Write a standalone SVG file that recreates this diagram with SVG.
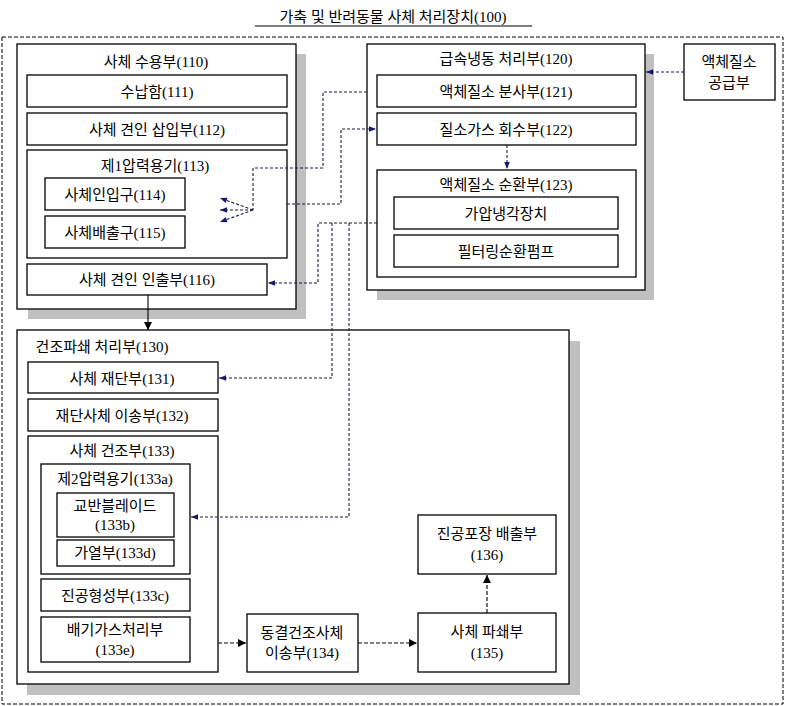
<svg xmlns="http://www.w3.org/2000/svg" width="785" height="706" viewBox="0 0 785 706">
<defs>
<style>
.b{fill:#fff;stroke:#000;stroke-width:1.3}
.s{fill:#c0c0c0}
.t{font-family:"Liberation Serif","Noto Sans CJK KR",serif;font-size:15px;text-anchor:middle;fill:#000}
.d{fill:none;stroke:#1a1a40;stroke-width:1.1;stroke-dasharray:3,2}
.k{fill:none;stroke:#000;stroke-width:1.1;stroke-dasharray:4,2}
</style>
<marker id="a" viewBox="0 0 10 10" refX="10" refY="5" markerWidth="9" markerHeight="7" orient="auto" markerUnits="userSpaceOnUse"><path d="M0,1 L10,5 L0,9 Z" fill="#1a1a6a"/></marker>
<marker id="ak" viewBox="0 0 10 10" refX="10" refY="5" markerWidth="10" markerHeight="8" orient="auto" markerUnits="userSpaceOnUse"><path d="M0,0 L10,5 L0,10 Z" fill="#000"/></marker>
</defs>
<rect width="785" height="706" fill="#fff"/>
<text class="t" x="393" y="22" font-size="16">가축 및 반려동물 사체 처리장치(100)</text>
<line x1="255" y1="26" x2="532" y2="26" stroke="#000" stroke-width="1.2"/>
<rect x="2" y="37" width="781" height="667" fill="none" stroke="#000" stroke-dasharray="4,2"/>

<g id="n110">
<rect class="s" x="28" y="54" width="278" height="265"/>
<rect class="b" x="17" y="44" width="279" height="265"/>
<text class="t" x="156" y="67">사체 수용부(110)</text>
</g>
<g id="n111"><rect class="b" x="27" y="75" width="260" height="32"/><text class="t" x="157" y="97">수납함(111)</text></g>
<g id="n112"><rect class="b" x="27" y="113" width="260" height="32"/><text class="t" x="157" y="135">사체 견인 삽입부(112)</text></g>
<g id="n113"><rect class="b" x="27" y="150" width="260" height="108"/><text class="t" x="155" y="171">제1압력용기(113)</text></g>
<g id="n114"><rect class="b" x="45" y="178" width="140" height="32"/><text class="t" x="115" y="200">사체인입구(114)</text></g>
<g id="n115"><rect class="b" x="45" y="216" width="140" height="32"/><text class="t" x="115" y="238">사체배출구(115)</text></g>
<g id="n116"><rect class="b" x="27" y="264" width="240" height="31"/><text class="t" x="147" y="285">사체 견인 인출부(116)</text></g>

<g id="n120">
<rect class="s" x="377" y="54" width="277" height="246"/>
<rect class="b" x="367" y="44" width="278" height="246"/>
<text class="t" x="506" y="64">급속냉동 처리부(120)</text>
</g>
<g id="n121"><rect class="b" x="377" y="75" width="259" height="32"/><text class="t" x="506" y="97">액체질소 분사부(121)</text></g>
<g id="n122"><rect class="b" x="377" y="113" width="259" height="32"/><text class="t" x="506" y="135">질소가스 회수부(122)</text></g>
<g id="n123"><rect class="b" x="377" y="170" width="259" height="107"/><text class="t" x="506" y="190">액체질소 순환부(123)</text></g>
<g id="n123a"><rect class="b" x="394" y="197" width="224" height="32"/><text class="t" x="506" y="219">가압냉각장치</text></g>
<g id="n123b"><rect class="b" x="394" y="235" width="224" height="32"/><text class="t" x="506" y="257">필터링순환펌프</text></g>
<g id="nLN"><rect class="b" x="684" y="44" width="91" height="56"/><text class="t" x="729" y="67">액체질소</text><text class="t" x="729" y="88">공급부</text></g>

<g id="n130">
<rect class="s" x="27" y="341" width="553" height="354"/>
<rect class="b" x="17" y="330" width="552" height="354"/>
<text class="t" x="102" y="352">건조파쇄 처리부(130)</text>
</g>
<g id="n131"><rect class="b" x="28" y="362" width="190" height="31"/><text class="t" x="122" y="384">사체 재단부(131)</text></g>
<g id="n132"><rect class="b" x="28" y="399" width="190" height="32"/><text class="t" x="122" y="421">재단사체 이송부(132)</text></g>
<g id="n133"><rect class="b" x="28" y="436" width="190" height="236"/><text class="t" x="122" y="456">사체 건조부(133)</text></g>
<g id="n133a"><rect class="b" x="41" y="464" width="149" height="110"/><text class="t" x="115" y="484">제2압력용기(133a)</text></g>
<g id="n133b"><rect class="b" x="57" y="493" width="117" height="44"/><text class="t" x="115" y="511">교반블레이드</text><text class="t" x="115" y="530">(133b)</text></g>
<g id="n133d"><rect class="b" x="57" y="540" width="117" height="26"/><text class="t" x="115" y="558">가열부(133d)</text></g>
<g id="n133c"><rect class="b" x="41" y="579" width="149" height="32"/><text class="t" x="115" y="601">진공형성부(133c)</text></g>
<g id="n133e"><rect class="b" x="41" y="617" width="149" height="45"/><text class="t" x="115" y="635">배기가스처리부</text><text class="t" x="115" y="655">(133e)</text></g>
<g id="n134"><rect class="b" x="247" y="614" width="111" height="58"/><text class="t" x="302" y="638">동결건조사체</text><text class="t" x="302" y="658">이송부(134)</text></g>
<g id="n135"><rect class="b" x="418" y="613" width="138" height="59"/><text class="t" x="487" y="637">사체 파쇄부</text><text class="t" x="487" y="658">(135)</text></g>
<g id="n136"><rect class="b" x="418" y="515" width="138" height="59"/><text class="t" x="487" y="539">진공포장 배출부</text><text class="t" x="487" y="560">(136)</text></g>

<g id="connectors">
<line x1="148" y1="295" x2="148" y2="330" stroke="#000" stroke-width="1.1" marker-end="url(#ak)"/>
<polyline class="d" points="367,92 323,92 323,168 253,168 253,210"/>
<line class="d" x1="253" y1="210" x2="220" y2="198" marker-end="url(#a)"/>
<line class="d" x1="253" y1="210" x2="220" y2="210" marker-end="url(#a)"/>
<line class="d" x1="253" y1="210" x2="220" y2="222" marker-end="url(#a)"/>
<polyline class="d" points="287,204 341,204 341,129 376,129" marker-end="url(#a)"/>
<line class="d" x1="507" y1="145" x2="507" y2="169" marker-end="url(#a)"/>
<line class="d" x1="684" y1="72" x2="646" y2="72" marker-end="url(#a)"/>
<polyline class="d" points="377,223 318,223 318,283 268,283" marker-end="url(#a)"/>
<polyline class="d" points="332,223 332,378 219,378" marker-end="url(#a)"/>
<polyline class="d" points="349,223 349,517 191,517" marker-end="url(#a)"/>
<line class="k" x1="218" y1="643" x2="246" y2="643" marker-end="url(#ak)"/>
<line class="k" x1="358" y1="643" x2="417" y2="643" marker-end="url(#ak)"/>
<line class="k" x1="487" y1="613" x2="487" y2="575" marker-end="url(#ak)"/>
</g>
</svg>
